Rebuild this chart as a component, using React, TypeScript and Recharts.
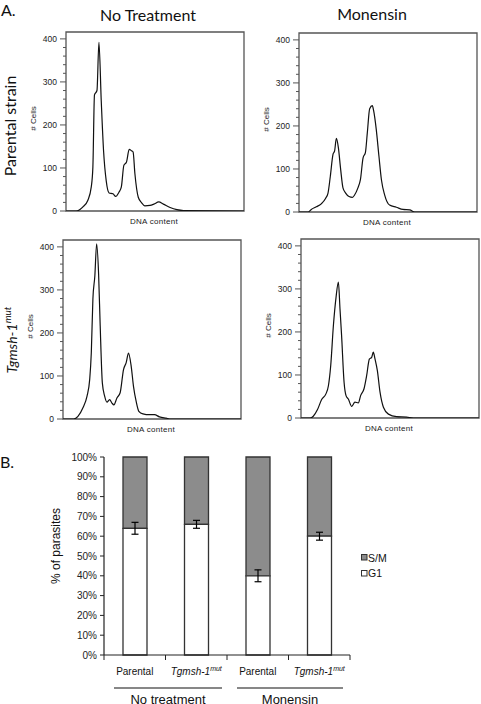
import { LineChart, Line, XAxis, YAxis, ReferenceArea, BarChart, Bar, ErrorBar } from 'recharts'

const SANS = '"Liberation Sans", Arial, sans-serif'
const TITLE = 'Lato, "Open Sans", sans-serif'

// Flow histograms: channel = position along the DNA content axis (0-100), count = # cells
const parentalNtChannel = [0, 5.7, 9.4, 12.3, 14.2, 15.1, 16.0, 17.4, 18.5, 19.8, 21.1, 22.6, 24.2, 26.4, 27.9, 29.8, 31.1, 32.5, 34.0, 35.5, 36.8, 37.7, 38.7, 40.6, 42.5, 44.3, 47.2, 49.4, 52.1, 54.7, 58.5, 62.3, 66.0, 100]
const parentalNtCount = [0, 0, 9, 25, 56, 102, 270, 280, 392, 256, 140, 70, 42, 40, 34, 44, 56, 106, 114, 143, 140, 137, 87, 32, 19, 12, 13, 16, 21, 16, 8, 3, 1, 0]

const parentalMonChannel = [0, 5.1, 6.9, 9.7, 12.5, 15.0, 16.3, 17.6, 19.1, 20.0, 21.0, 22.1, 23.4, 24.7, 26.2, 28.1, 30.0, 31.3, 33.1, 34.5, 36.0, 37.3, 38.4, 39.7, 41.2, 41.9, 43.4, 44.9, 46.3, 48.1, 50.9, 54.7, 58.4, 62.2, 65.0, 100]
const parentalMonCount = [0, 0, 6, 12, 19, 32, 44, 83, 134, 142, 171, 150, 99, 56, 44, 36, 34, 40, 56, 75, 126, 138, 185, 240, 247, 236, 192, 130, 75, 40, 16, 11, 6, 5, 0, 0]

const mutNtChannel = [0, 6.0, 8.4, 11.2, 13.5, 15.0, 15.9, 16.8, 17.9, 18.9, 20.0, 20.9, 22.1, 23.4, 24.7, 26.2, 27.5, 28.6, 30.3, 32.1, 34.0, 35.5, 36.8, 38.3, 39.6, 41.1, 42.6, 44.9, 48.6, 51.4, 54.2, 57.9, 60.7, 100]
const mutNtCount = [0, 0, 6, 26, 53, 92, 154, 279, 333, 407, 337, 216, 84, 53, 39, 45, 37, 33, 49, 61, 115, 131, 153, 123, 76, 41, 18, 12, 10, 10, 5, 2, 0, 0]

const mutMonChannel = [0, 5.1, 6.9, 9.2, 11.6, 14.0, 15.4, 16.7, 18.2, 19.7, 21.0, 21.9, 22.8, 24.2, 25.3, 26.6, 28.5, 30.3, 32.2, 33.5, 35.4, 36.9, 38.4, 39.7, 40.6, 41.6, 42.9, 44.4, 46.3, 49.1, 53.7, 59.4, 63.1, 100]
const mutMonCount = [0, 0, 4, 19, 43, 56, 75, 122, 215, 281, 316, 254, 192, 83, 52, 44, 27, 37, 35, 52, 68, 99, 137, 141, 153, 137, 110, 60, 25, 9, 3, 2, 0, 0]

const histTicks = [0, 20, 40, 60, 80, 100, 120, 140, 160, 180, 200, 220, 240, 260, 280, 300, 320, 340, 360, 380, 400]
const HIST_MAX = 416

// Panel B
const catLabels = ['Parental', 'Tgmsh-1', 'Parental', 'Tgmsh-1']
const catSup = ['', 'mut', '', 'mut']
const g1Pct = [64, 66, 40, 60]
const smPct = [36, 34, 60, 40]
const g1Err = [3, 2, 3, 2]
const pctTicks = [0, 10, 20, 30, 40, 50, 60, 70, 80, 90, 100]
const groupLabels = ['No treatment', 'Monensin']

const FW = 178
const FH = 179

function HistTick(props: any) {
  const { x, y, payload } = props
  const major = payload.value % 100 === 0
  return (
    <g>
      <line x1={x - (major ? 6 : 3)} x2={x} y1={y} y2={y} stroke="#555" strokeWidth={1} />
      {major && (
        <text x={x - 9} y={y} dy={3} textAnchor="end" fontSize={8.5} fontFamily={SANS} fill="#222">
          {payload.value}
        </text>
      )}
    </g>
  )
}

function Histogram({ left, top, channel, count }: { left: number; top: number; channel: number[]; count: number[] }) {
  const data = channel.map((c, i) => ({ c, n: count[i] }))
  return (
    <div style={{ position: 'absolute', left: left - 45, top: top - 6 }}>
      <LineChart width={45 + FW + 6} height={FH + 12} data={data} margin={{ top: 6, right: 6, bottom: 6, left: 10 }}>
        <XAxis dataKey="c" type="number" domain={[0, 100]} hide />
        <YAxis
          type="number"
          domain={[0, HIST_MAX]}
          ticks={histTicks}
          interval={0}
          width={35}
          axisLine={false}
          tickLine={false}
          tickSize={0}
          tickMargin={0}
          tick={<HistTick />}
          allowDataOverflow
        />
        <ReferenceArea x1={0} x2={100} y1={0} y2={HIST_MAX} fill="none" fillOpacity={0} stroke="#555" strokeWidth={1.3} />
        <Line type="monotone" dataKey="n" stroke="#111" strokeWidth={1.2} dot={false} isAnimationActive={false} />
      </LineChart>
    </div>
  )
}

// bar chart geometry
const B_W = 320
const B_M = { top: 10, right: 10, bottom: 5, left: 14 }
const B_YW = 50
const B_PLOT_W = B_W - B_M.left - B_M.right - B_YW
const STEP = B_PLOT_W / catLabels.length

function CatTick(props: any) {
  const { x, y, index } = props
  const sup = catSup[index]
  return (
    <g>
      <line x1={x + STEP / 2} x2={x + STEP / 2} y1={y} y2={y + 5} stroke="#222" />
      {index === 0 && <line x1={x - STEP / 2} x2={x - STEP / 2} y1={y} y2={y + 5} stroke="#222" />}
      <text x={x} y={y + 20} textAnchor="middle" fontSize={10} fontFamily={SANS} fill="#111">
        <tspan fontStyle={sup ? 'italic' : 'normal'}>{catLabels[index]}</tspan>
        {sup && (
          <tspan dy={-4} fontSize={7} fontStyle="italic">
            {sup}
          </tspan>
        )}
      </text>
    </g>
  )
}

export default function App() {
  const rows = catLabels.map((_, i) => ({ id: `c${i}`, g1: g1Pct[i], sm: smPct[i], err: g1Err[i] }))
  const frames = [
    { left: 66, top: 32 },
    { left: 299, top: 33 },
    { left: 63, top: 240 },
    { left: 301, top: 239 },
  ]
  return (
    <div style={{ position: 'absolute', left: 0, top: 0, width: 481, height: 704, overflow: 'hidden', background: '#fff' }}>
      <Histogram {...frames[0]} channel={parentalNtChannel} count={parentalNtCount} />
      <Histogram {...frames[1]} channel={parentalMonChannel} count={parentalMonCount} />
      <Histogram {...frames[2]} channel={mutNtChannel} count={mutNtCount} />
      <Histogram {...frames[3]} channel={mutMonChannel} count={mutMonCount} />

      <div style={{ position: 'absolute', left: 40, top: 447 }}>
        <BarChart width={B_W} height={243} data={rows} margin={B_M} barSize={24}>
          <XAxis
            xAxisId="sm"
            dataKey="id"
            interval={0}
            height={30}
            tickLine={false}
            tickSize={0}
            tickMargin={0}
            tick={<CatTick />}
            axisLine={{ stroke: '#222', strokeWidth: 1.2 }}
          />
          <XAxis xAxisId="g1" dataKey="id" hide height={0} />
          <YAxis
            domain={[0, 100]}
            ticks={pctTicks}
            interval={0}
            width={B_YW}
            tickFormatter={(v: number) => `${v}%`}
            tick={{ fontSize: 10, fill: '#222', fontFamily: SANS }}
            tickSize={4}
            tickMargin={3}
            axisLine={{ stroke: '#222', strokeWidth: 1.2 }}
            tickLine={{ stroke: '#222' }}
          />
          <Bar
            xAxisId="sm"
            dataKey={(r: any) => [r.g1, r.g1 + r.sm]}
            fill="#8c8c8c"
            stroke="#333"
            strokeWidth={1.3}
            isAnimationActive={false}
          />
          <Bar xAxisId="g1" dataKey="g1" fill="#fff" stroke="#333" strokeWidth={1.3} isAnimationActive={false}>
            <ErrorBar dataKey="err" width={3.5} stroke="#000" strokeWidth={1.2} direction="y" />
          </Bar>
        </BarChart>
      </div>

      <svg width={481} height={704} style={{ position: 'absolute', left: 0, top: 0, pointerEvents: 'none' }}>
        <text x={1} y={16} fontSize={16} fontFamily={TITLE} fill="#111">A.</text>
        <text x={148} y={21} fontSize={16} fontFamily={TITLE} textAnchor="middle" fill="#111">No Treatment</text>
        <text x={372} y={20} fontSize={16} fontFamily={TITLE} textAnchor="middle" fill="#111">Monensin</text>
        <text x={16} y={126} fontSize={16} fontFamily={TITLE} textAnchor="middle" transform="rotate(-90 16 126)" fill="#111">
          Parental strain
        </text>
        <text x={17} y={340} fontSize={14} fontFamily={TITLE} textAnchor="middle" transform="rotate(-90 17 340)" fill="#111" fontStyle="italic">
          <tspan>Tgmsh-1</tspan>
          <tspan dy={-6} fontSize={10}>mut</tspan>
        </text>

        {frames.map((f, i) => (
          <g key={i}>
            <text
              x={f.left - 30}
              y={f.top + FH / 2 - 3}
              fontSize={8}
              fontFamily={SANS}
              textAnchor="middle"
              fill="#222"
              transform={`rotate(-90 ${f.left - 30} ${f.top + FH / 2 - 3})`}
            >
              #  Cells
            </text>
            <text x={f.left + FW / 2 - 1} y={f.top + FH + 12.5} fontSize={8} fontFamily={SANS} textAnchor="middle" fill="#222" letterSpacing={0.3}>
              DNA  content
            </text>
          </g>
        ))}

        <text x={0} y={468} fontSize={16} fontFamily={TITLE} fill="#111">B.</text>
        <text x={60} y={546} fontSize={12} fontFamily={SANS} textAnchor="middle" transform="rotate(-90 60 546)" fill="#111">
          % of parasites
        </text>

        <line x1={114} x2={222} y1={688} y2={688} stroke="#111" strokeWidth={1.2} />
        <line x1={237} x2={343} y1={688} y2={688} stroke="#111" strokeWidth={1.2} />
        <text x={168} y={703.5} fontSize={13} fontFamily={SANS} textAnchor="middle" fill="#111">{groupLabels[0]}</text>
        <text x={290} y={703.5} fontSize={13} fontFamily={SANS} textAnchor="middle" fill="#111">{groupLabels[1]}</text>

        <rect x={361.5} y={554.5} width={5.5} height={5.5} fill="#8c8c8c" stroke="#333" />
        <text x={368} y={562} fontSize={10.5} fontFamily={SANS} fill="#111">S/M</text>
        <rect x={361.5} y={570.5} width={5.5} height={5.5} fill="#fff" stroke="#333" />
        <text x={368} y={577} fontSize={10.5} fontFamily={SANS} fill="#111">G1</text>
      </svg>
    </div>
  )
}
